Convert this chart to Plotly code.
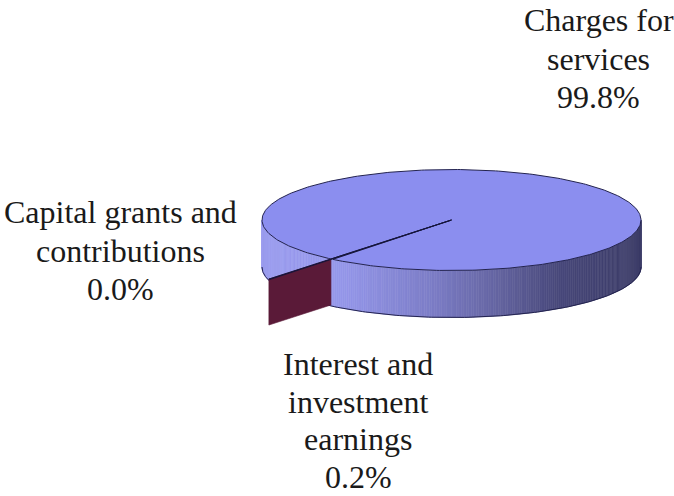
import numpy as np
import plotly.graph_objects as go

categories = ["Charges for services", "Interest and investment earnings", "Capital grants and contributions"]
values = [99.8, 0.2, 0.0]
label_lines = [["Charges for", "services"], ["Interest and", "investment", "earnings"], ["Capital grants and", "contributions"]]
label_centers = [(598.5, 20), (358, 364), (120, 212)]
line_steps = [38.5, 37.6, 38.5]

W, H = 674, 496
CX, CY, A, B, DEPTH = 451.5, 220, 189.5, 50.5, 47
T0 = 129.5          # rotation: screen angle of first slice boundary
WEDGE_SCALE = 1.515 # pulled out small slice
FACE = "#8b8eef"
RIM = "#23234f"
RED = "#5a1a38"
STOPS = [(262, (155, 157, 240)), (340, (150, 152, 235)), (430, (125, 126, 200)), (500, (100, 100, 160)),
         (560, (72, 72, 122)), (641, (62, 62, 105))]

def pt(t, r=1.0, dz=0.0):
    t = np.radians(t)
    return CX + A * r * np.cos(t), CY + dz + B * r * np.sin(t)

def shade(x):
    xs = [s[0] for s in STOPS]
    return "rgb(%d,%d,%d)" % tuple(np.interp(x, xs, [s[1][i] for s in STOPS]) for i in range(3))

fig = go.Figure()

def poly(xs, ys, fill, line=None, width=0):
    fig.add_trace(go.Scatter(x=list(xs), y=list(ys), mode="lines", fill="toself", fillcolor=fill,
                             line=dict(color=line or fill, width=width or 0.6), hoverinfo="skip", showlegend=False))

# side wall, front half, as shaded strips
ts = np.linspace(180, 0, 241)
for t1, t2 in zip(ts[:-1], ts[1:]):
    x1, y1 = pt(t1); x2, y2 = pt(t2)
    x3, y3 = pt(t2, dz=DEPTH); x4, y4 = pt(t1, dz=DEPTH)
    poly([x1, x2, x3, x4, x1], [y1, y2, y3, y4, y1], shade((x1 + x2) / 2))

# bottom rim
tb = np.linspace(180, 0, 181)
xb, yb = pt(tb, dz=DEPTH)
fig.add_trace(go.Scatter(x=xb, y=yb, mode="lines", line=dict(color=RIM, width=1), hoverinfo="skip", showlegend=False))
for t in (180, 0):
    x0, y0 = pt(t)
    x1, y1 = pt(t, dz=DEPTH)
    fig.add_trace(go.Scatter(x=[x0, x1], y=[y0, y1], mode="lines", line=dict(color=shade(x0), width=1),
                             hoverinfo="skip", showlegend=False))

# slice angles from the values
total = sum(values)
sweep = [360 * v / total for v in values]
t_small_start = T0 - sweep[1]
t_small_end = T0

# radial face of the pulled-out slice
xa, ya = pt(T0)
xo, yo = pt(T0, WEDGE_SCALE)
poly([xa, xo, xo, xa, xa], [ya, yo, yo + DEPTH - 1, ya + DEPTH - 1, ya], RED)

# top of the big slice
tt = np.linspace(T0, T0 + sweep[0], 400)
xt, yt = pt(tt)
poly(np.r_[CX, xt, CX], np.r_[CY, yt, CY], FACE, RIM, 1)

# top of the small slice
tw = np.linspace(t_small_start, t_small_end, 5)
xw, yw = pt(tw, WEDGE_SCALE)
poly(np.r_[CX, xw, CX], np.r_[CY, yw, CY], "#14143a", "#14143a", 0.8)

# labels
anns = []
for lines, v, (cx, cy), step in zip(label_lines, values, label_centers, line_steps):
    for i, s in enumerate(lines + ["%.1f%%" % v]):
        anns.append(dict(x=cx, y=cy + i * step, text=s, showarrow=False, xanchor="center", yanchor="middle",
                         borderpad=0, borderwidth=0,
                         font=dict(family="Liberation Serif", size=32, color="#1a1a1a")))

fig.update_layout(width=W, height=H, margin=dict(l=0, r=0, t=0, b=0), paper_bgcolor="white", plot_bgcolor="white",
                  xaxis=dict(range=[0, W], visible=False, fixedrange=True),
                  yaxis=dict(range=[H, 0], visible=False, fixedrange=True),
                  annotations=anns, showlegend=False)
fig.write_html("out.html", config=dict(displayModeBar=False),
               post_script="document.body.style.margin='0';document.body.style.overflow='hidden';")
